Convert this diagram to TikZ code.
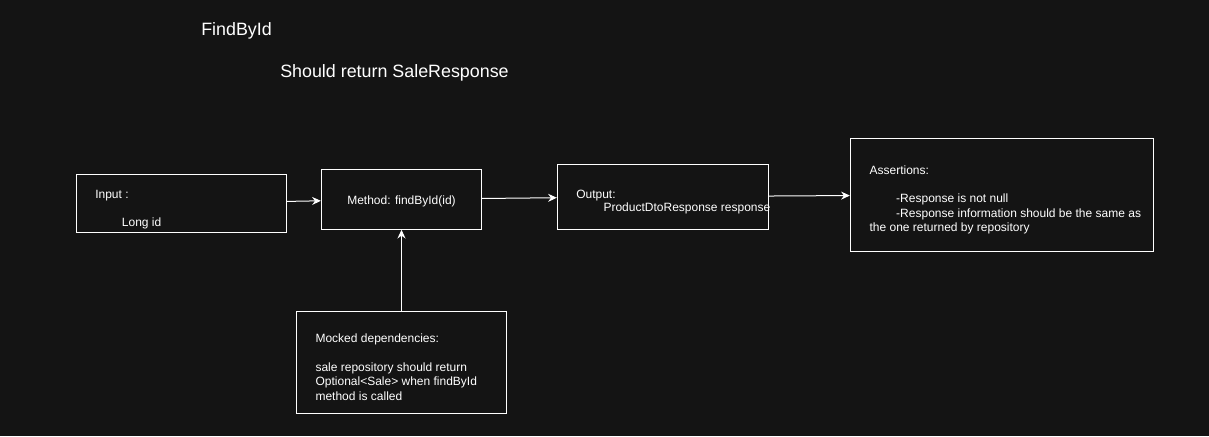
\documentclass[tikz,border=0pt]{standalone}
\usepackage{fontspec}
\setmainfont{Liberation Sans}
\usetikzlibrary{arrows.meta,fit}
\definecolor{bgdark}{RGB}{20,20,20}

\begin{document}
\begin{tikzpicture}[x=0.75pt,y=-0.75pt,
    box/.style={draw=white,line width=0.75pt,inner sep=0pt},
    txt/.style={text=white,font=\fontsize{9}{10.8}\selectfont,inner sep=0pt,anchor=base west,align=left},
    head/.style={text=white,font=\fontsize{13.4}{15}\selectfont,inner sep=0pt,anchor=base west},
    arr/.style={draw=white,line width=0.75pt,-{Stealth[length=6.5pt,width=6pt]}}]
    \fill[bgdark] (0,0) rectangle (1209,436);
    \useasboundingbox (0,0) rectangle (1209,436);
    % titles
    \node[head] (title) at (201,35.7) {FindById};
    \node[head] (subtitle) at (280,77.7) {Should return SaleResponse};
    % boxes
    \node[box,fit={(76.3,174) (286.7,232.7)}] (input) {};
    \node[box,fit={(321.3,169.3) (481.7,229.3)}] (method) {};
    \node[box,fit={(557.3,164.3) (768.7,229)}] (output) {};
    \node[box,fit={(850.3,138.3) (1153.7,251)}] (assert) {};
    \node[box,fit={(296.3,311.7) (506.7,413.3)}] (mocked) {};
    % texts (multi-line ones sit on their last baseline)
    \node[txt] (inputlbl) at (95,198.7) {Input :};
    \node[txt] (inputval) at (121.7,226) {Long id};
    \node[txt,anchor=base] (methodlbl) at (401.5,204.3) {Method: findById(id)};
    \node[txt] (outputlbl) at (576,198.3) {Output:};
    \node[txt] (outputval) at (603.3,211.7) {ProductDtoResponse response};
    \node[txt] (asserttxt) at (869.3,231.7) {Assertions:\\[10.8pt]
        \hspace*{20pt}-Response is not null\\
        \hspace*{20pt}-Response information should be the same as\\
        the one returned by repository};
    \node[txt] (mockedtxt) at (315.3,400) {Mocked dependencies:\\[10.8pt]
        sale repository should return\\
        Optional<Sale> when findById\\
        method is called};
    % connectors
    \draw[arr] (input) -- (method);
    \draw[arr] (method) -- (output);
    \draw[arr] (output) -- (assert);
    \draw[arr] (mocked) -- (method);
\end{tikzpicture}
\end{document}
